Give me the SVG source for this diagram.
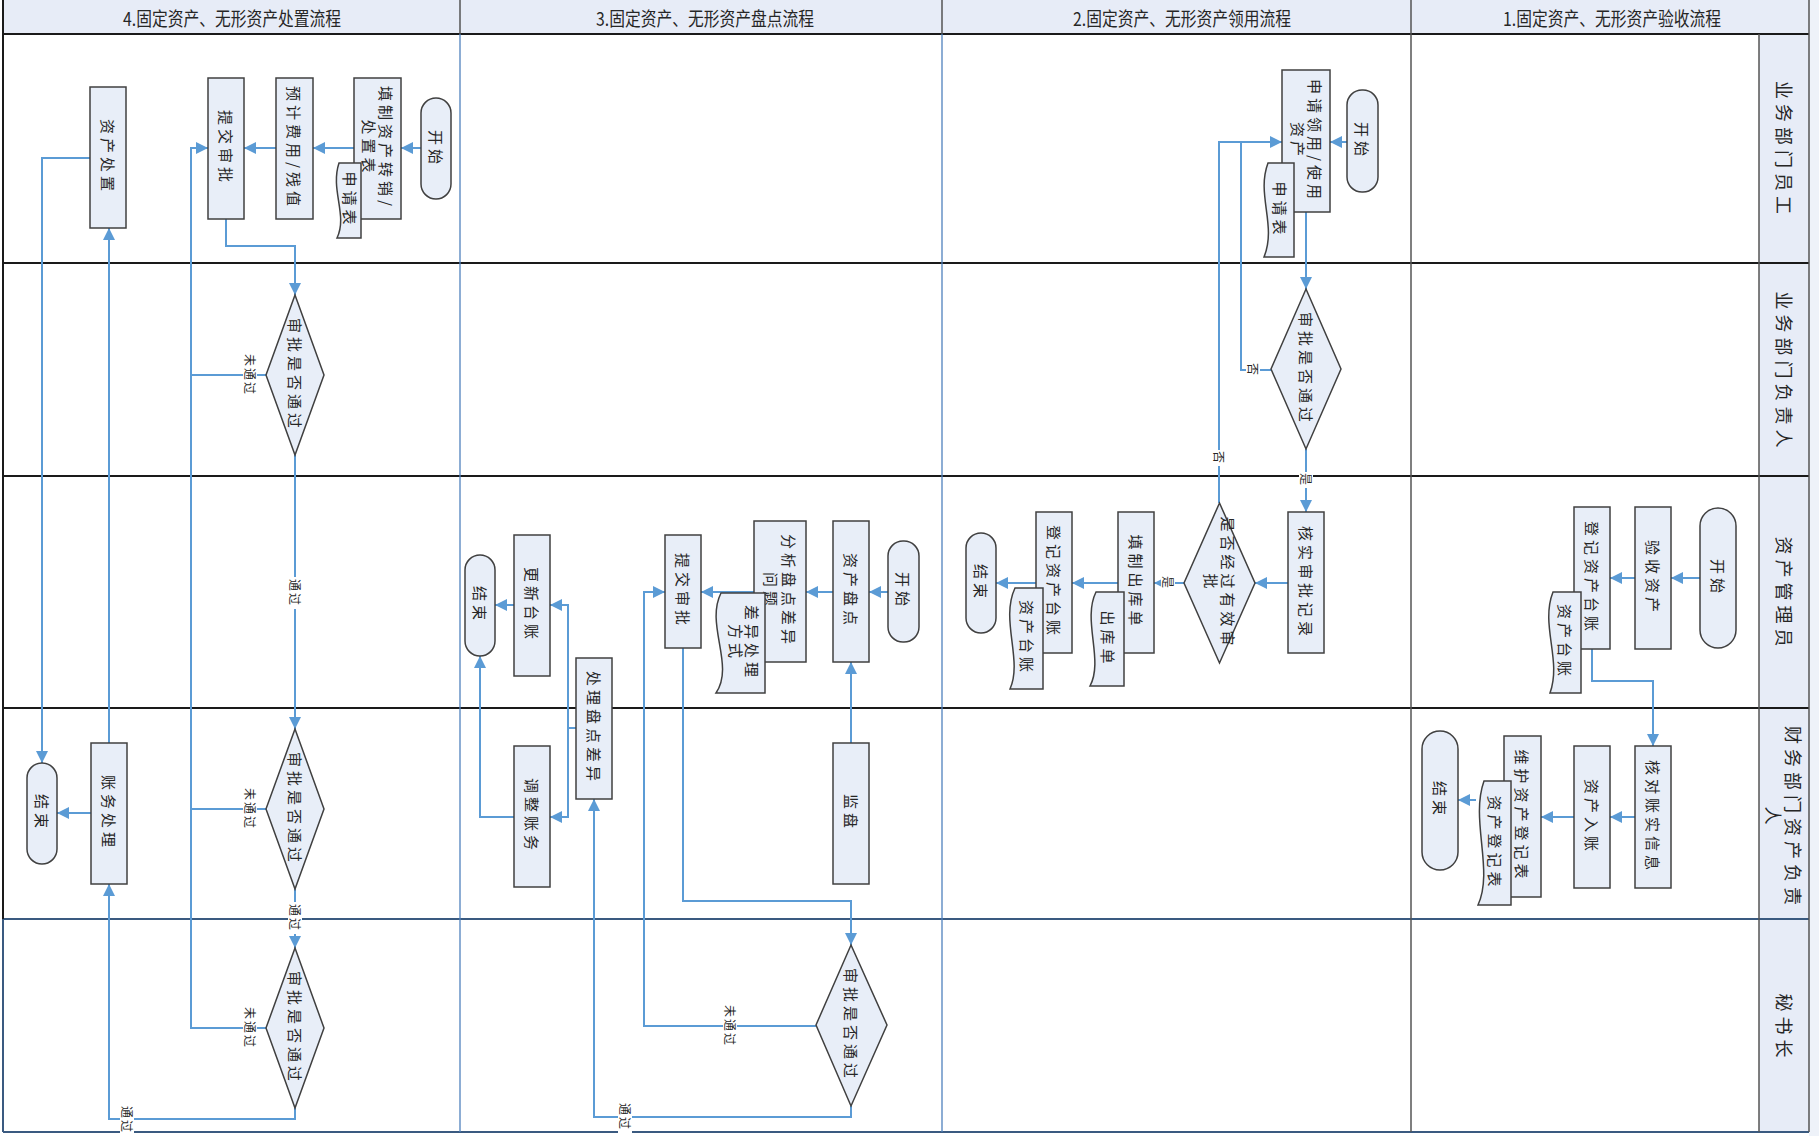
<svg xmlns="http://www.w3.org/2000/svg" width="1819" height="1136" viewBox="0 0 1819 1136">
<defs>
<marker id="ah" viewBox="0 0 10 10" refX="10" refY="5" markerWidth="12" markerHeight="12" markerUnits="userSpaceOnUse" orient="auto"><path d="M0,0 L10,5 L0,10 z" fill="#5B9BD5"/></marker>
<style>
.n{fill:#E8EEF8;stroke:#404040;stroke-width:1.5}
.t{font-family:"Noto Sans CJK SC","Noto Sans",sans-serif;font-size:15px;fill:#262626;letter-spacing:4px;text-anchor:middle;dominant-baseline:central}
.h{font-family:"Noto Sans CJK SC","Noto Sans",sans-serif;font-size:19px;fill:#262626;text-anchor:middle;dominant-baseline:central}
.lane{font-family:"Noto Sans CJK SC","Noto Sans",sans-serif;font-size:18px;fill:#262626;letter-spacing:5px;text-anchor:middle;dominant-baseline:central}
.l{font-family:"Noto Sans CJK SC","Noto Sans",sans-serif;font-size:12px;fill:#262626;letter-spacing:2px;text-anchor:middle;dominant-baseline:central}
.c{fill:none;stroke:#5B9BD5;stroke-width:2}
.a{marker-end:url(#ah)}
.bg{fill:#ffffff}
</style>
</defs>
<rect x="0" y="0" width="1819" height="1136" fill="#ffffff"/>
<g id="frame">
<rect x="3" y="0" width="1806" height="34" fill="#E7ECF7"/>
<rect x="1759" y="34" width="50" height="1098" fill="#E7ECF7"/>
<rect x="1809" y="0" width="10" height="1136" fill="#EEF2F9"/>
<line x1="3" y1="34" x2="1809" y2="34" stroke="#1a1a1a" stroke-width="2"/>
<line x1="3" y1="263" x2="1809" y2="263" stroke="#1a1a1a" stroke-width="2"/>
<line x1="3" y1="476" x2="1809" y2="476" stroke="#1a1a1a" stroke-width="2"/>
<line x1="3" y1="708" x2="1809" y2="708" stroke="#1a1a1a" stroke-width="2"/>
<line x1="3" y1="919" x2="1809" y2="919" stroke="#3A5A80" stroke-width="2"/>
<line x1="3" y1="1132" x2="1809" y2="1132" stroke="#3A5A80" stroke-width="2"/>
<line x1="3" y1="0" x2="3" y2="919" stroke="#1a1a1a" stroke-width="2"/>
<line x1="3" y1="919" x2="3" y2="1132" stroke="#3A5A80" stroke-width="2"/>
<line x1="460" y1="0" x2="460" y2="34" stroke="#555" stroke-width="1.5"/>
<line x1="460" y1="34" x2="460" y2="1132" stroke="#4F81BD" stroke-width="1.3"/>
<line x1="942" y1="0" x2="942" y2="34" stroke="#555" stroke-width="1.5"/>
<line x1="942" y1="34" x2="942" y2="1132" stroke="#4F81BD" stroke-width="1.3"/>
<line x1="1411" y1="0" x2="1411" y2="1132" stroke="#555" stroke-width="1.5"/>
<line x1="1759" y1="34" x2="1759" y2="1132" stroke="#555" stroke-width="1.5"/>
<line x1="1809" y1="0" x2="1809" y2="1132" stroke="#555" stroke-width="1.5"/>
<text class="h" x="232" y="17" textLength="218" lengthAdjust="spacingAndGlyphs">4.固定资产、无形资产处置流程</text>
<text class="h" x="705" y="17" textLength="218" lengthAdjust="spacingAndGlyphs">3.固定资产、无形资产盘点流程</text>
<text class="h" x="1182" y="17" textLength="218" lengthAdjust="spacingAndGlyphs">2.固定资产、无形资产领用流程</text>
<text class="h" x="1612" y="17" textLength="218" lengthAdjust="spacingAndGlyphs">1.固定资产、无形资产验收流程</text>
<text class="lane" transform="translate(1785,150) rotate(90)">业务部门员工</text>
<text class="lane" transform="translate(1785,372) rotate(90)">业务部门负责人</text>
<text class="lane" transform="translate(1785,594) rotate(90)">资产管理员</text>
<text class="lane" transform="translate(1794,818) rotate(90)">财务部门资产负责</text>
<text class="lane" transform="translate(1774,818) rotate(90)">人</text>
<text class="lane" transform="translate(1785,1028) rotate(90)">秘书长</text>
</g>
<g id="connectors">
<path class="c a" d="M421,148 L401,148"/>
<path class="c a" d="M354,148 L313,148"/>
<path class="c a" d="M276,148 L244,148"/>
<path class="c a" d="M226,219 L226,246 L295,246 L295,295"/>
<path class="c a" d="M266,375 L191,375 L191,148 L208,148"/>
<path class="c" d="M266,809 L191,809 L191,375"/>
<path class="c" d="M266,1028 L191,1028 L191,809"/>
<path class="c a" d="M295,455 L295,729"/>
<path class="c a" d="M295,889 L295,948"/>
<path class="c a" d="M295,1108 L295,1119 L109,1119 L109,884"/>
<path class="c a" d="M109,743 L109,228"/>
<path class="c a" d="M90,158 L42,158 L42,763"/>
<path class="c a" d="M91,813 L57,813"/>
<path class="c a" d="M888,592 L869,592"/>
<path class="c a" d="M833,592 L806,592"/>
<path class="c a" d="M754,592 L701,592"/>
<path class="c a" d="M851,743 L851,662"/>
<path class="c a" d="M683,648 L683,901 L851,901 L851,945"/>
<path class="c a" d="M816,1026 L644,1026 L644,592 L665,592"/>
<path class="c a" d="M851,1106 L851,1117 L594,1117 L594,799"/>
<path class="c a" d="M576,728 L568,728 L568,605 L550,605"/>
<path class="c a" d="M568,728 L568,817 L550,817"/>
<path class="c a" d="M514,605 L495,605"/>
<path class="c a" d="M514,817 L480,817 L480,656"/>
<path class="c a" d="M1347,142 L1330,142"/>
<path class="c a" d="M1306,212 L1306,289"/>
<path class="c" d="M1271,370 L1241,370 L1241,142"/>
<path class="c a" d="M1219,503 L1219,142 L1282,142"/>
<path class="c a" d="M1306,449 L1306,512"/>
<path class="c a" d="M1288,583 L1255,583"/>
<path class="c a" d="M1184,583 L1154,583"/>
<path class="c a" d="M1118,583 L1072,583"/>
<path class="c a" d="M1036,583 L996,583"/>
<path class="c a" d="M1700,578 L1671,578"/>
<path class="c a" d="M1635,578 L1610,578"/>
<path class="c a" d="M1592,649 L1592,681 L1653,681 L1653,746"/>
<path class="c a" d="M1635,817 L1610,817"/>
<path class="c a" d="M1574,817 L1541,817"/>
<path class="c a" d="M1476,800 L1458,800"/>
<g id="edge-labels">
<rect class="bg" x="243" y="352" width="14" height="46"/><text class="l" transform="translate(250,375) rotate(90)">未通过</text>
<rect class="bg" x="243" y="786" width="14" height="46"/><text class="l" transform="translate(250,809) rotate(90)">未通过</text>
<rect class="bg" x="243" y="1005" width="14" height="46"/><text class="l" transform="translate(250,1028) rotate(90)">未通过</text>
<rect class="bg" x="288" y="577" width="14" height="32"/><text class="l" transform="translate(295,593) rotate(90)">通过</text>
<rect class="bg" x="288" y="902" width="14" height="32"/><text class="l" transform="translate(295,918) rotate(90)">通过</text>
<rect class="bg" x="120" y="1104" width="14" height="30"/><text class="l" transform="translate(127,1120) rotate(90)">通过</text>
<rect class="bg" x="723" y="1003" width="14" height="46"/><text class="l" transform="translate(730,1026) rotate(90)">未通过</text>
<rect class="bg" x="618" y="1101" width="14" height="32"/><text class="l" transform="translate(625,1117) rotate(90)">通过</text>
<rect class="bg" x="1246" y="362" width="14" height="16"/><text class="l" transform="translate(1253,370) rotate(90)">否</text>
<rect class="bg" x="1212" y="450" width="14" height="16"/><text class="l" transform="translate(1219,458) rotate(90)">否</text>
<rect class="bg" x="1299" y="472" width="14" height="16"/><text class="l" transform="translate(1306,480) rotate(90)">是</text>
<rect class="bg" x="1161" y="575" width="14" height="16"/><text class="l" transform="translate(1168,583) rotate(90)">是</text>
</g>
</g>
<g id="c4-start"><rect class="n" x="421" y="98" width="30" height="101" rx="15"/><text class="t" transform="translate(436,149) rotate(90)">开始</text></g>
<g id="c4-fill"><rect class="n" x="354" y="78" width="47" height="141"/><text class="t" transform="translate(386,148) rotate(90)">填制资产转销/</text><text class="t" transform="translate(369,148) rotate(90)">处置表</text></g>
<g id="c4-doc"><path class="n" d="M361,163 L339,163 C330,190 348,215 337,238 L361,238 Z"/><text class="t" transform="translate(350,200) rotate(90)">申请表</text></g>
<g id="c4-est"><rect class="n" x="276" y="78" width="37" height="141"/><text class="t" transform="translate(294.5,148) rotate(90)">预计费用/残值</text></g>
<g id="c4-submit"><rect class="n" x="208" y="78" width="36" height="141"/><text class="t" transform="translate(226,148) rotate(90)">提交审批</text></g>
<g id="c4-dispose"><rect class="n" x="90" y="87" width="36" height="141"/><text class="t" transform="translate(108,157) rotate(90)">资产处置</text></g>
<g id="c4-d1"><path class="n" d="M295,295 L324,375 L295,455 L266,375 Z"/><text class="t" transform="translate(295,375) rotate(90)">审批是否通过</text></g>
<g id="c4-d2"><path class="n" d="M295,729 L324,809 L295,889 L266,809 Z"/><text class="t" transform="translate(295,809) rotate(90)">审批是否通过</text></g>
<g id="c4-d3"><path class="n" d="M295,948 L324,1028 L295,1108 L266,1028 Z"/><text class="t" transform="translate(295,1028) rotate(90)">审批是否通过</text></g>
<g id="c4-acct"><rect class="n" x="91" y="743" width="36" height="141"/><text class="t" transform="translate(109,813) rotate(90)">账务处理</text></g>
<g id="c4-end"><rect class="n" x="27" y="763" width="30" height="101" rx="15"/><text class="t" transform="translate(42,813) rotate(90)">结束</text></g>
<g id="c3-start"><rect class="n" x="888" y="541" width="31" height="101" rx="15"/><text class="t" transform="translate(903.5,591) rotate(90)">开始</text></g>
<g id="c3-count"><rect class="n" x="833" y="521" width="36" height="141"/><text class="t" transform="translate(851,591) rotate(90)">资产盘点</text></g>
<g id="c3-analyze"><rect class="n" x="754" y="521" width="52" height="141"/><text class="t" transform="translate(789,591) rotate(90)">分析盘点差异</text><text class="t" transform="translate(771,591) rotate(90)">问题</text></g>
<g id="c3-doc"><path class="n" d="M765,593 L721,593 C705,625 735,665 716,693 L765,693 Z"/><text class="t" transform="translate(752,643) rotate(90)">差异处理</text><text class="t" transform="translate(736,643) rotate(90)">方式</text></g>
<g id="c3-submit"><rect class="n" x="665" y="535" width="36" height="113"/><text class="t" transform="translate(683,591) rotate(90)">提交审批</text></g>
<g id="c3-update"><rect class="n" x="514" y="535" width="36" height="141"/><text class="t" transform="translate(532,605) rotate(90)">更新台账</text></g>
<g id="c3-end"><rect class="n" x="465" y="555" width="30" height="101" rx="15"/><text class="t" transform="translate(480,605) rotate(90)">结束</text></g>
<g id="c3-handle"><rect class="n" x="576" y="658" width="36" height="141"/><text class="t" transform="translate(594,728) rotate(90)">处理盘点差异</text></g>
<g id="c3-adjust"><rect class="n" x="514" y="746" width="36" height="141"/><text class="t" transform="translate(532,816) rotate(90)">调整账务</text></g>
<g id="c3-monitor"><rect class="n" x="833" y="743" width="36" height="141"/><text class="t" transform="translate(851,813) rotate(90)">监盘</text></g>
<g id="c3-d1"><path class="n" d="M851,945 L887,1025 L851,1106 L816,1025 Z"/><text class="t" transform="translate(851,1025) rotate(90)">审批是否通过</text></g>
<g id="c2-start"><rect class="n" x="1347" y="90" width="31" height="102" rx="15"/><text class="t" transform="translate(1362.5,141) rotate(90)">开始</text></g>
<g id="c2-apply"><rect class="n" x="1282" y="70" width="48" height="142"/><text class="t" transform="translate(1315,141) rotate(90)">申请领用/使用</text><text class="t" transform="translate(1298,141) rotate(90)">资产</text></g>
<g id="c2-doc"><path class="n" d="M1294,163 L1268,163 C1256,195 1277,225 1264,257 L1294,257 Z"/><text class="t" transform="translate(1280,210) rotate(90)">申请表</text></g>
<g id="c2-d1"><path class="n" d="M1306,289 L1341,369 L1306,449 L1271,369 Z"/><text class="t" transform="translate(1306,369) rotate(90)">审批是否通过</text></g>
<g id="c2-verify"><rect class="n" x="1288" y="512" width="36" height="141"/><text class="t" transform="translate(1306,583) rotate(90)">核实审批记录</text></g>
<g id="c2-d2"><path class="n" d="M1219.5,503 L1255,583 L1219.5,663 L1184,583 Z"/><text class="t" transform="translate(1228,583) rotate(90)">是否经过有效审</text><text class="t" transform="translate(1211,583) rotate(90)">批</text></g>
<g id="c2-out"><rect class="n" x="1118" y="512" width="36" height="141"/><text class="t" transform="translate(1136,582) rotate(90)">填制出库单</text></g>
<g id="c2-outdoc"><path class="n" d="M1124,592 L1096,592 C1082,620 1104,660 1090,686 L1124,686 Z"/><text class="t" transform="translate(1108,639) rotate(90)">出库单</text></g>
<g id="c2-reg"><rect class="n" x="1036" y="512" width="36" height="141"/><text class="t" transform="translate(1054,582) rotate(90)">登记资产台账</text></g>
<g id="c2-regdoc"><path class="n" d="M1043,588 L1015,588 C1000,620 1023,660 1010,689 L1043,689 Z"/><text class="t" transform="translate(1027,638) rotate(90)">资产台账</text></g>
<g id="c2-end"><rect class="n" x="966" y="533" width="30" height="100" rx="15"/><text class="t" transform="translate(981,583) rotate(90)">结束</text></g>
<g id="c1-start"><rect class="n" x="1700" y="508" width="36" height="140" rx="18"/><text class="t" transform="translate(1718,578) rotate(90)">开始</text></g>
<g id="c1-accept"><rect class="n" x="1635" y="507" width="36" height="142"/><text class="t" transform="translate(1653,578) rotate(90)">验收资产</text></g>
<g id="c1-reg"><rect class="n" x="1574" y="507" width="36" height="142"/><text class="t" transform="translate(1592,578) rotate(90)">登记资产台账</text></g>
<g id="c1-regdoc"><path class="n" d="M1581,592 L1553,592 C1540,625 1562,660 1550,693 L1581,693 Z"/><text class="t" transform="translate(1565,642) rotate(90)">资产台账</text></g>
<g id="c1-check"><rect class="n" x="1635" y="746" width="36" height="142"/><text class="t" transform="translate(1653,817) rotate(90)">核对账实信息</text></g>
<g id="c1-book"><rect class="n" x="1574" y="746" width="36" height="142"/><text class="t" transform="translate(1592,817) rotate(90)">资产入账</text></g>
<g id="c1-maintain"><rect class="n" x="1504" y="736" width="37" height="161"/><text class="t" transform="translate(1522.5,816) rotate(90)">维护资产登记表</text></g>
<g id="c1-maintdoc"><path class="n" d="M1511,781 L1484,781 C1470,820 1494,870 1478,905 L1511,905 Z"/><text class="t" transform="translate(1495,843) rotate(90)">资产登记表</text></g>
<g id="c1-end"><rect class="n" x="1422" y="731" width="36" height="139" rx="18"/><text class="t" transform="translate(1440,800) rotate(90)">结束</text></g>
</svg>
